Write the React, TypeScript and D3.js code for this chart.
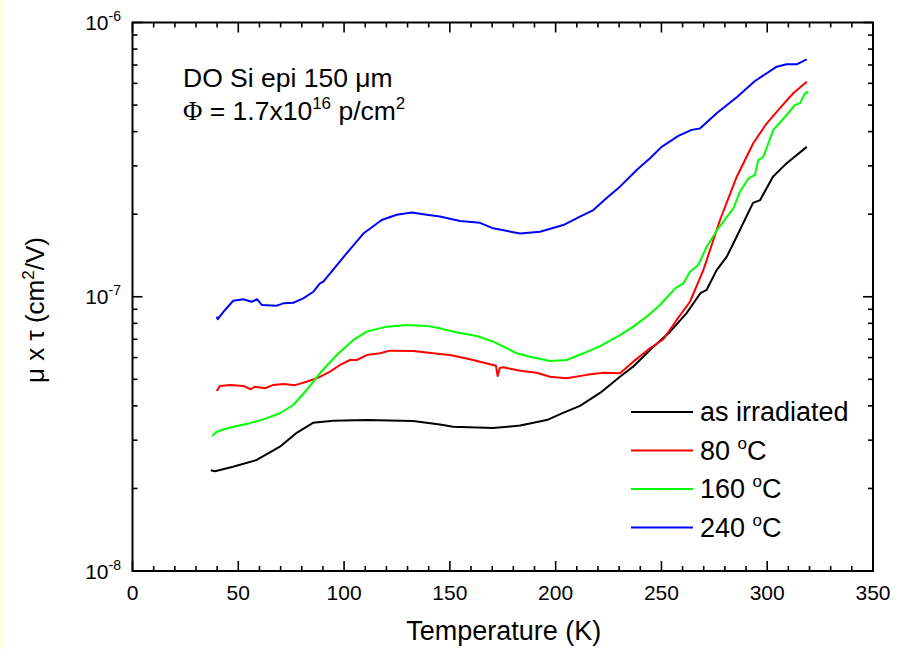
import React from 'react';
import * as d3 from 'd3';

const W = 900;
const H = 649;

const X_DOMAIN: [number, number] = [0, 350];
const Y_DOMAIN: [number, number] = [1e-8, 1e-6];
const X_MAJOR = [0, 50, 100, 150, 200, 250, 300, 350];
const Y_DECADES = [1e-8, 1e-7, 1e-6];
const Y_EXP = ['-8', '-7', '-6'];

// as irradiated
const T_IRR = [37, 39, 47.5, 58.7, 69.7, 77.6, 85.3, 94.8, 110.7, 132.6, 145.3, 151.5, 170.4, 183.2, 195.8, 203.5, 211.5, 221, 230.4, 236.6, 246, 254.1, 261.9, 268.4, 271.4, 276.1, 280.9, 284.8, 293.3, 296.6, 302.7, 309.2, 318.7];
const V_IRR = [2.33e-8, 2.31e-8, 2.40e-8, 2.54e-8, 2.84e-8, 3.19e-8, 3.47e-8, 3.53e-8, 3.55e-8, 3.52e-8, 3.42e-8, 3.36e-8, 3.32e-8, 3.39e-8, 3.55e-8, 3.77e-8, 4.00e-8, 4.46e-8, 5.11e-8, 5.56e-8, 6.55e-8, 7.46e-8, 8.72e-8, 1.03e-7, 1.06e-7, 1.25e-7, 1.40e-7, 1.61e-7, 2.20e-7, 2.25e-7, 2.74e-7, 3.07e-7, 3.52e-7];

// 80 C
const T_80 = [39.8, 41.4, 46.1, 52.4, 55.9, 57.9, 62.6, 66.6, 71.3, 76.8, 82.3, 87.8, 93.4, 98.1, 102.8, 106, 110.7, 117, 121.7, 132.7, 145.3, 150.1, 159.5, 169, 171.8, 172.6, 173.6, 175.3, 183.2, 191, 197.3, 205.2, 214.7, 222.5, 230.4, 236.7, 244.6, 250.9, 257.2, 263.5, 269.8, 277.7, 285.6, 293.4, 299.8, 306, 312.3, 318.7];
const V_80 = [4.53e-8, 4.73e-8, 4.77e-8, 4.73e-8, 4.60e-8, 4.70e-8, 4.64e-8, 4.77e-8, 4.81e-8, 4.76e-8, 4.90e-8, 5.07e-8, 5.33e-8, 5.64e-8, 5.88e-8, 5.88e-8, 6.13e-8, 6.22e-8, 6.36e-8, 6.34e-8, 6.18e-8, 6.13e-8, 5.92e-8, 5.67e-8, 5.60e-8, 5.14e-8, 5.50e-8, 5.53e-8, 5.37e-8, 5.28e-8, 5.11e-8, 5.04e-8, 5.19e-8, 5.28e-8, 5.26e-8, 5.80e-8, 6.49e-8, 7.00e-8, 8.23e-8, 9.59e-8, 1.25e-7, 1.905e-7, 2.74e-7, 3.63e-7, 4.29e-7, 4.87e-7, 5.52e-7, 6.08e-7];

// 160 C
const T_160 = [37.7, 39.8, 44.5, 49.3, 55.5, 61.8, 69.7, 76, 82.3, 88.6, 96.5, 104.4, 110.7, 120.1, 129.6, 139.1, 145.3, 151.6, 162.7, 170.5, 181.6, 187.9, 197.3, 205.2, 213.1, 221, 230.4, 236.7, 243, 249.3, 256.5, 260.4, 263.5, 267.4, 271.4, 276.9, 284, 287.1, 291.1, 294.2, 295.8, 298.2, 302.9, 309.2, 313.1, 315.5, 317.9, 319.4];
const V_160 = [3.11e-8, 3.22e-8, 3.31e-8, 3.38e-8, 3.46e-8, 3.57e-8, 3.76e-8, 4.03e-8, 4.57e-8, 5.26e-8, 6.13e-8, 6.96e-8, 7.46e-8, 7.78e-8, 7.89e-8, 7.83e-8, 7.67e-8, 7.46e-8, 7.19e-8, 6.86e-8, 6.22e-8, 6.04e-8, 5.83e-8, 5.88e-8, 6.22e-8, 6.61e-8, 7.25e-8, 7.78e-8, 8.46e-8, 9.33e-8, 1.073e-7, 1.119e-7, 1.234e-7, 1.305e-7, 1.522e-7, 1.776e-7, 2.10e-7, 2.415e-7, 2.70e-7, 2.78e-7, 3.15e-7, 3.24e-7, 4.06e-7, 4.60e-7, 5.00e-7, 5.08e-7, 5.52e-7, 5.59e-7];

// 240 C
const T_240 = [39.8, 40.3, 43.7, 47.6, 52.4, 56.3, 59, 61.1, 68.2, 71.3, 76, 80.7, 85.5, 88.6, 90.2, 101.2, 109.1, 117.8, 124.9, 132, 139.1, 145.3, 154.8, 164.2, 170.5, 183.2, 192.6, 203.6, 211.5, 217.8, 224.1, 230.4, 238.3, 244.6, 250.1, 258, 264.3, 268.2, 276.1, 285.6, 294.2, 304.5, 309.2, 313.9, 318.7];
const V_240 = [8.46e-8, 8.28e-8, 8.95e-8, 9.67e-8, 9.79e-8, 9.59e-8, 9.79e-8, 9.33e-8, 9.28e-8, 9.46e-8, 9.51e-8, 9.87e-8, 1.043e-7, 1.119e-7, 1.135e-7, 1.44e-7, 1.70e-7, 1.905e-7, 1.99e-7, 2.03e-7, 1.99e-7, 1.96e-7, 1.89e-7, 1.86e-7, 1.776e-7, 1.70e-7, 1.726e-7, 1.826e-7, 1.96e-7, 2.07e-7, 2.29e-7, 2.52e-7, 2.90e-7, 3.20e-7, 3.52e-7, 3.86e-7, 4.06e-7, 4.11e-7, 4.67e-7, 5.34e-7, 6.12e-7, 6.90e-7, 7.04e-7, 7.04e-7, 7.34e-7];

const SERIES_T = [T_IRR, T_80, T_160, T_240];
const SERIES_V = [V_IRR, V_80, V_160, V_240];
const SERIES_LABEL = ['as irradiated', '80', '160', '240'];
const SERIES_COLOR = ['#000000', '#ff0000', '#00ff00', '#0000ff'];

const FONT = '"Liberation Sans", Arial, Helvetica, sans-serif';

export default function App() {
  const left = 132.5, right = 873, top = 22.5, bottom = 571;
  const x = d3.scaleLinear().domain(X_DOMAIN).range([left, right]);
  const y = d3.scaleLog().domain(Y_DOMAIN).range([bottom, top]);
  const line = d3.line<[number, number]>().x(d => x(d[0])).y(d => y(d[1]));

  const xMinor = d3.range(0, 351, 10).filter(v => v % 50 !== 0);
  const yMinor: number[] = [];
  [1e-8, 1e-7].forEach(dec => { for (let k = 2; k <= 9; k++) yMinor.push(k * dec); });

  const majLen = 10, minLen = 5;

  return (
    <svg width={W} height={H} style={{ position: 'absolute', left: 0, top: 0, background: '#fff' }} fontFamily={FONT}>
      <rect x={0} y={0} width={W} height={H} fill="#ffffff" />
      <rect x={0} y={0} width={3} height={H} fill="#ffffe0" />

      {/* curves */}
      {SERIES_T.map((ts, i) => (
        <path key={i} d={line(ts.map((t, j) => [t, SERIES_V[i][j]] as [number, number])) || ''}
          fill="none" stroke={SERIES_COLOR[i]} strokeWidth={2} strokeLinejoin="round" />
      ))}

      {/* frame */}
      <rect x={left} y={top} width={right - left} height={bottom - top} fill="none" stroke="#000" strokeWidth={2} />

      {/* ticks */}
      <g stroke="#000" strokeWidth={1.6}>
        {X_MAJOR.map(v => (
          <g key={'xm' + v}>
            <line x1={x(v)} x2={x(v)} y1={bottom} y2={bottom - majLen} />
            <line x1={x(v)} x2={x(v)} y1={top} y2={top + majLen} />
          </g>
        ))}
        {xMinor.map(v => (
          <g key={'xn' + v}>
            <line x1={x(v)} x2={x(v)} y1={bottom} y2={bottom - minLen} />
            <line x1={x(v)} x2={x(v)} y1={top} y2={top + minLen} />
          </g>
        ))}
        {Y_DECADES.map(v => (
          <g key={'ym' + v}>
            <line x1={left} x2={left + majLen} y1={y(v)} y2={y(v)} />
            <line x1={right} x2={right - majLen} y1={y(v)} y2={y(v)} />
          </g>
        ))}
        {yMinor.map(v => (
          <g key={'yn' + v}>
            <line x1={left} x2={left + minLen} y1={y(v)} y2={y(v)} />
            <line x1={right} x2={right - minLen} y1={y(v)} y2={y(v)} />
          </g>
        ))}
      </g>

      {/* x tick labels */}
      {X_MAJOR.map(v => (
        <text key={'xl' + v} x={x(v)} y={600} textAnchor="middle" fontSize={21} fill="#000">{v}</text>
      ))}

      {/* y tick labels */}
      {Y_DECADES.map((v, i) => (
        <text key={'yl' + v} x={121} y={y(v) + 7.5} textAnchor="end" fontSize={21} fill="#000">
          10<tspan dy={-9} fontSize={14}>{Y_EXP[i]}</tspan>
        </text>
      ))}

      {/* axis titles */}
      <text x={(left + right) / 2 + 1} y={640} textAnchor="middle" fontSize={27} fill="#000">Temperature (K)</text>
      <text transform={`translate(44,310) rotate(-90)`} textAnchor="middle" fontSize={26} fill="#000">
        μ x τ (cm<tspan dy={-10} fontSize={17}>2</tspan><tspan dy={10}>/V)</tspan>
      </text>

      {/* annotation */}
      <text x={183} y={87} fontSize={26.5} fill="#000">DO Si epi 150 μm</text>
      <text x={183} y={120} fontSize={26.5} fill="#000">
        <tspan fontFamily='"Liberation Serif", "Times New Roman", serif'>Φ</tspan> = 1.7x10<tspan dy={-11} fontSize={17}>16</tspan><tspan dy={11}> p/cm</tspan><tspan dy={-11} fontSize={17}>2</tspan>
      </text>

      {/* legend */}
      {SERIES_LABEL.map((lab, i) => {
        const ly = 412 + i * 38.5;
        return (
          <g key={'lg' + i}>
            <line x1={631} x2={693} y1={ly} y2={ly} stroke={SERIES_COLOR[i]} strokeWidth={2} />
            {i === 0 ? (
              <text x={700} y={ly + 9} fontSize={27} fill="#000">{lab}</text>
            ) : (
              <text x={700} y={ly + 9} fontSize={27} fill="#000">
                {lab} <tspan dy={-11} fontSize={17}>o</tspan><tspan dy={11}>C</tspan>
              </text>
            )}
          </g>
        );
      })}
    </svg>
  );
}
